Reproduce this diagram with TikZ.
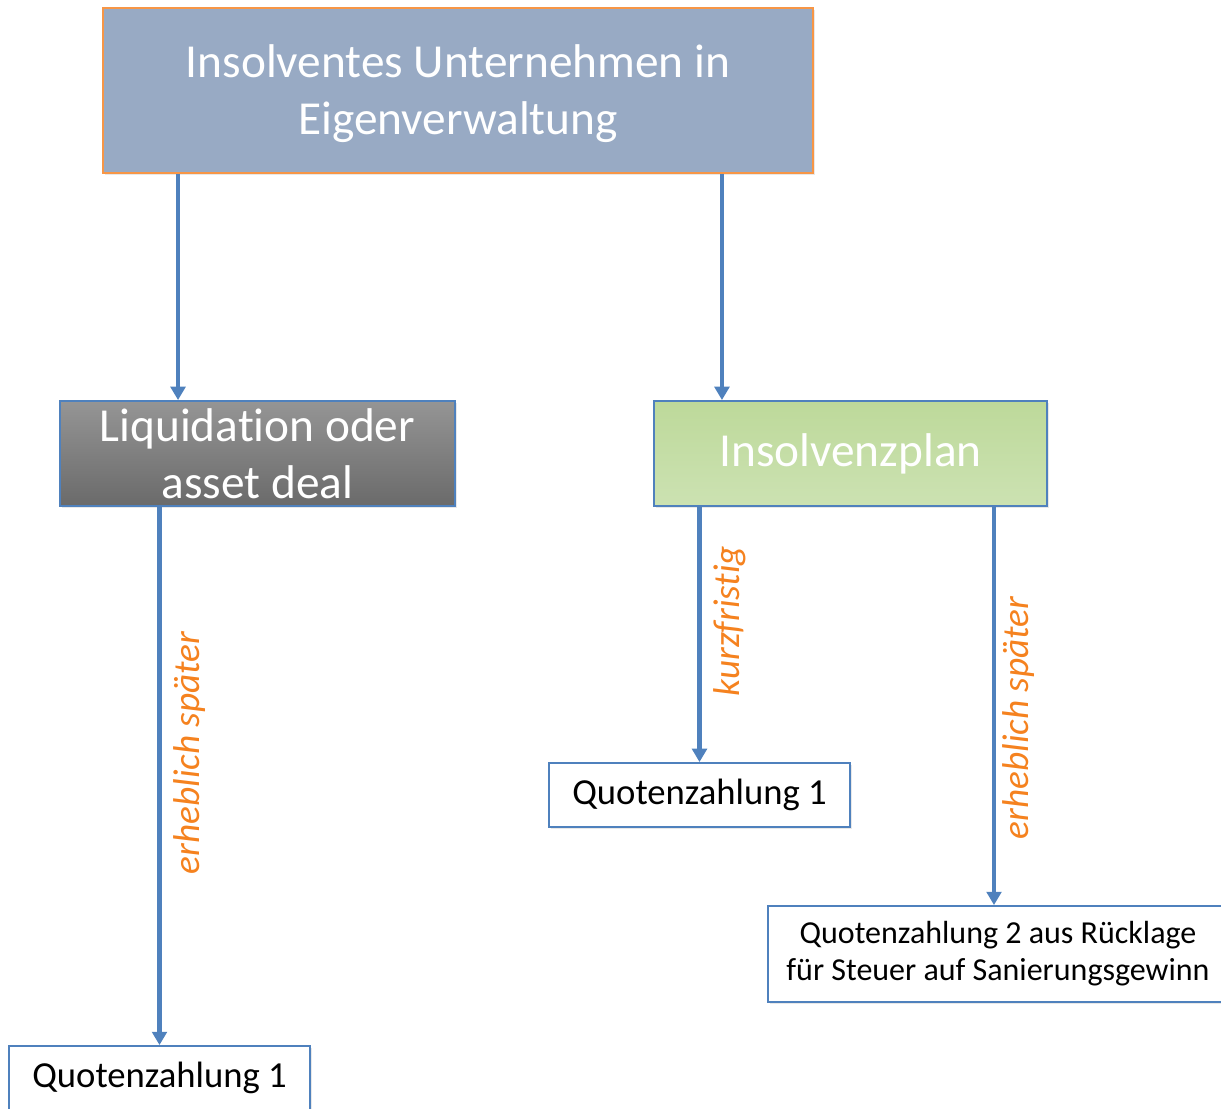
\documentclass[tikz,border=0pt]{standalone}
\usepackage{fontspec}
\setmainfont{Carlito}[Ligatures=NoCommon]
\usepackage{xcolor}
\definecolor{ieblue}{HTML}{4F81BD}
\definecolor{ieorange}{HTML}{F79646}
\definecolor{ielabel}{HTML}{F5821F}
\definecolor{iesteel}{HTML}{98AAC4}
\definecolor{iegraytop}{HTML}{959595}
\definecolor{iegraybot}{HTML}{6A6A6A}
\definecolor{iegreentop}{HTML}{BDD99A}
\definecolor{iegreenbot}{HTML}{CCE2B2}
\usepackage{tikz}
\usetikzlibrary{arrows.meta,shadows}

\begin{document}
\begin{tikzpicture}[x=0.75pt,y=-0.75pt,>={Triangle[width=11pt,length=10pt]}]
\tikzset{
 box/.style={draw=ieblue,line width=1.4pt,align=center,inner sep=0pt,
   drop shadow={opacity=0.18,shadow xshift=1.5pt,shadow yshift=-1.5pt}},
 headbox/.style={box,text=white,font=\fontsize{35.5}{42.75}\selectfont},
 resultbox/.style={box,fill=white,text=black},
 arrow/.style={->,line width=3.6pt,draw=ieblue},
 when/.style={rotate=90,anchor=north,inner sep=9pt,text=ielabel,
   font=\itshape\fontsize{28}{33}\selectfont}
}
\useasboundingbox (0,0) rectangle (1221,1108);

% start
\node[headbox,draw=ieorange,fill=iesteel,minimum width=532.5pt,minimum height=123.75pt]
  (firm) at (458,90.5) {\rule{0pt}{30pt}Insolventes Unternehmen in\\Eigenverwaltung};

% two ways
\node[headbox,top color=iegraytop,bottom color=iegraybot,minimum width=296.25pt,minimum height=78.75pt]
  (liq) at (257.5,453.5) {Liquidation oder\\asset deal};
\node[headbox,top color=iegreentop,bottom color=iegreenbot,minimum width=294.75pt,minimum height=78.75pt]
  (plan) at (850.5,453.5) {\raisebox{-2.5pt}{Insolvenzplan}};

% payments
\node[resultbox,minimum width=225.75pt,minimum height=48pt,font=\fontsize{27.5}{33}\selectfont]
  (quoteL) at (159.5,1078) {Quotenzahlung 1};
\node[resultbox,minimum width=225.75pt,minimum height=48pt,font=\fontsize{27.5}{33}\selectfont]
  (quoteM) at (699.5,795) {Quotenzahlung 1};
\node[resultbox,minimum width=345pt,minimum height=72pt,font=\fontsize{24}{27.75}\selectfont]
  (quoteR) at (998,954) {Quotenzahlung 2 aus Rücklage\\für Steuer auf Sanierungsgewinn};

\draw[arrow] ([xshift=-59.6pt]liq.north |- firm.south) -- ([xshift=-59.6pt]liq.north);
\draw[arrow] ([xshift=-96.4pt]plan.north |- firm.south) -- ([xshift=-96.4pt]plan.north);
\draw[arrow] (liq.south -| quoteL.north) -- node[when,pos=0.457] {erheblich später} (quoteL.north);
\draw[arrow] (plan.south -| quoteM.north) -- node[when,pos=0.447] {kurzfristig} (quoteM.north);
\draw[arrow] ([xshift=-3pt]plan.south -| quoteR.north) -- node[when,pos=0.53,inner sep=4.5pt] {erheblich später} ([xshift=-3pt]quoteR.north);
\end{tikzpicture}
\end{document}
